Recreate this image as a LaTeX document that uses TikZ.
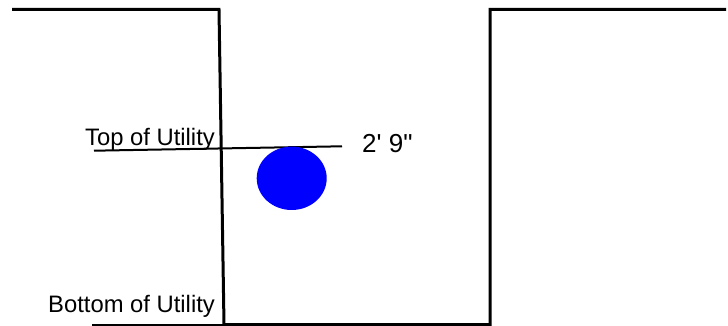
\documentclass[tikz,border=0pt]{standalone}
\usepackage{fontspec}
\setmainfont{Liberation Sans}
\usetikzlibrary{positioning}
\tikzset{
  every picture/.style={x=1pt, y=-1pt},
  wall/.style={draw=black, line width=3pt},
  level/.style={draw=black, line width=2pt},
  note/.style={font=\fontsize{23.8}{28}\selectfont, inner sep=0pt, anchor=base west},
  dimtext/.style={font=\fontsize{26}{31}\selectfont, inner sep=0pt, anchor=base west},
  pipe/.style={fill=blue, draw=none},
}
\begin{document}
\begin{tikzpicture}
  \useasboundingbox (0,0) rectangle (728,326);
  % ---- trench ----
  \draw[wall] (12,9.5) -- (219,9.5) -- (224,324.5) -- (490,324.5) -- (490,9.5) -- (726,9.5);
  \draw[draw=black, line width=1.5pt] (92,325) -- (224,325);
  % ---- utility ----
  \coordinate (topL) at (94,150.7);
  \coordinate (topR) at (342,146.3);
  \draw[level] (topL) -- (topR);
  \fill[pipe] (291.7,178.3) ellipse [x radius=35, y radius=31.7];
  % ---- labels ----
  \node[note] (top) at (85,146) {Top of Utility};
  \node[note] (bottom) at (48,312.3) {Bottom of Utility};
  \node[dimtext] (depth) at (362,153) {2\textquotesingle{} 9\textquotedbl};
\end{tikzpicture}
\end{document}
